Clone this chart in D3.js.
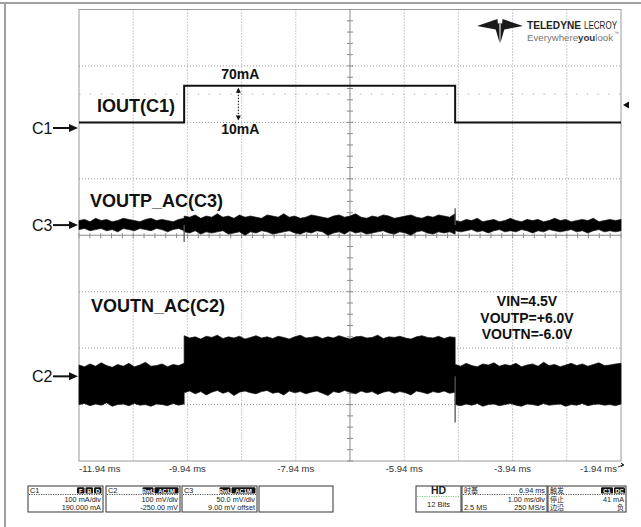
<!DOCTYPE html>
<html>
<head>
<meta charset="utf-8">
<script src="https://cdn.jsdelivr.net/npm/d3@7"></script>
<style>
  body { margin: 0; background: #fff; }
  svg { display: block; font-family: "Liberation Sans", Arial, sans-serif; }
</style>
</head>
<body>
<svg width="641" height="527"></svg>
<script>
// time axis (ms), 1 ms/div
const timeTicks = [-11.94, -9.94, -7.94, -5.94, -3.94, -1.94];
// load steps at -10 ms and -5 ms split the record in three segments
const segments = [[-11.94, -10.0], [-10.0, -5.0], [-5.0, -1.94]];

// C1 load current (mA) per segment, trigger level
const c1Levels = [10, 75, 10];
const c1Trigger = 41;

// C2 (VOUTN ac) envelope in mV, per segment
const c2Hi = [
  [20,17,22,18,24,19,16,21,18,23,17,20,25,18,19,22,17,21,19,23],
  [72,68,70,66,71,69,73,67,70,68,71,66,69,72,68,70,67,71,69,66,70,73,68,69,71,67,70,68,72,69,66,70,71,68,69,73,67,70,69,71,68,66,70,72,69,68,71,67,70,69],
  [21,18,23,19,17,22,20,24,18,21,19,23,17,20,22,18,25,19,21,17,20,23,19,22,18,21,24,19,20,22,23]
];
const c2Lo = [
  [-50,-48,-52,-49,-51,-47,-53,-50,-49,-52,-48,-51,-50,-53,-49,-50,-52,-48,-51,-49],
  [-29,-26,-31,-27,-33,-28,-25,-30,-27,-34,-28,-26,-29,-31,-27,-25,-30,-28,-33,-26,-29,-27,-31,-28,-26,-30,-34,-27,-29,-25,-28,-31,-26,-29,-27,-32,-28,-26,-30,-27,-29,-33,-26,-28,-31,-27,-29,-26,-30,-28],
  [-50,-52,-49,-51,-48,-53,-50,-49,-52,-50,-48,-51,-53,-49,-50,-52,-48,-51,-50,-49,-53,-50,-51,-48,-52,-50,-49,-51,-50,-52,-49]
];
const c2Spikes = [{ t: -5.0, v: -82 }];

// C3 (VOUTP ac) envelope in mV, per segment
const c3Hi = [
  [4,5,3,6,4,5,3,4,6,5,4,3,5,6,4,5,4,3,5,6],
  [8,7,9,6,8,7,10,7,8,6,9,7,8,7,6,9,8,7,10,7,8,6,7,9,8,7,6,8,9,7,8,10,7,6,8,7,9,8,6,7,8,9,7,6,8,7,9,8,7,10],
  [4,3,5,4,6,3,4,5,3,4,6,4,3,5,4,5,3,4,6,4,5,3,4,5,4,6,3,4,5,4,5]
];
const c3Lo = [
  [-4,-3,-5,-4,-3,-5,-4,-6,-3,-4,-5,-3,-4,-5,-3,-4,-6,-4,-3,-5],
  [-6,-7,-5,-8,-6,-7,-6,-5,-8,-7,-6,-9,-6,-7,-5,-6,-8,-7,-6,-5,-7,-8,-6,-7,-5,-6,-9,-7,-6,-8,-5,-7,-6,-8,-7,-6,-5,-7,-8,-6,-7,-9,-6,-5,-7,-8,-6,-7,-6,-8],
  [-5,-6,-5,-4,-6,-5,-7,-5,-4,-6,-5,-6,-4,-5,-7,-5,-6,-4,-5,-6,-5,-4,-6,-5,-7,-5,-4,-6,-5,-6,-5]
];
const c3Spikes = [{ t: -10.0, v: -15 }, { t: -5.0, v: 15 }];

// vertical settings: units per div and offset
const chans = {
  C1: { vdiv: 100, offset: 190 },
  C2: { vdiv: 100, offset: -250 },
  C3: { vdiv: 50, offset: 9 }
};

const svg = d3.select("svg");
const x = d3.scaleLinear().domain([-11.94, -1.94]).range([79, 621]);
const y = d3.scaleLinear().domain([-4, 4]).range([461, 9.5]);
const yc = (ch, v) => y((v + chans[ch].offset) / chans[ch].vdiv);

// outer frame (top + left only)
svg.append("line").attr("x1", 0).attr("x2", 641).attr("y1", 3).attr("y2", 3)
  .attr("stroke", "#a0a0a0").attr("stroke-width", 2);
svg.append("line").attr("x1", 5).attr("x2", 5).attr("y1", 2).attr("y2", 527)
  .attr("stroke", "#a0a0a0").attr("stroke-width", 2);

// grid
const grid = svg.append("g");
d3.range(1, 10).filter(i => i !== 5).forEach(i => {
  grid.append("line")
    .attr("x1", x(-11.94 + i)).attr("x2", x(-11.94 + i))
    .attr("y1", y(4)).attr("y2", y(-4))
    .attr("stroke", "#9a9a9a").attr("stroke-dasharray", "1,2");
});
d3.range(-3, 4).filter(d => d !== 0).forEach(d => {
  grid.append("line")
    .attr("x1", x(-11.94)).attr("x2", x(-1.94))
    .attr("y1", y(d)).attr("y2", y(d))
    .attr("stroke", "#9a9a9a").attr("stroke-dasharray", "1,2");
});
grid.append("line")
  .attr("x1", x(-11.94)).attr("x2", x(-1.94))
  .attr("y1", y(2.5)).attr("y2", y(2.5))
  .attr("stroke", "#b5b5b5").attr("stroke-dasharray", "1.5,9.3");

// centre cross with minor ticks
grid.append("line").attr("x1", x(-6.94)).attr("x2", x(-6.94))
  .attr("y1", y(4)).attr("y2", y(-4)).attr("stroke", "#8a8a8a");
grid.append("line").attr("x1", x(-11.94)).attr("x2", x(-1.94))
  .attr("y1", y(0)).attr("y2", y(0)).attr("stroke", "#8a8a8a");
d3.range(-20, 21).forEach(k => {
  grid.append("line")
    .attr("x1", x(-6.94) - 3).attr("x2", x(-6.94) + 3)
    .attr("y1", y(k / 5)).attr("y2", y(k / 5)).attr("stroke", "#8a8a8a");
});
d3.range(0, 51).forEach(k => {
  grid.append("line")
    .attr("x1", x(-11.94 + k / 5)).attr("x2", x(-11.94 + k / 5))
    .attr("y1", y(0) - 2).attr("y2", y(0) + 3).attr("stroke", "#8a8a8a");
});

// plot border
svg.append("rect")
  .attr("x", x(-11.94)).attr("y", y(4))
  .attr("width", x(-1.94) - x(-11.94)).attr("height", y(-4) - y(4))
  .attr("fill", "none").attr("stroke", "#9a9a9a");

// envelopes
function envelope(hi, lo) {
  const pts = [];
  segments.forEach(([t0, t1], i) => {
    const n = hi[i].length;
    hi[i].forEach((h, k) => pts.push({ t: t0 + (t1 - t0) * k / (n - 1), hi: h, lo: lo[i][k] }));
  });
  return pts;
}

function drawNoise(ch, hi, lo, spikes) {
  const area = d3.area()
    .x(d => x(d.t))
    .y0(d => yc(ch, d.lo))
    .y1(d => yc(ch, d.hi));
  svg.append("path")
    .attr("d", area(envelope(hi, lo)))
    .attr("fill", "#000").attr("stroke", "#111").attr("stroke-width", 0.7);
  spikes.forEach(s => {
    svg.append("line")
      .attr("x1", x(s.t)).attr("x2", x(s.t))
      .attr("y1", yc(ch, 0)).attr("y2", yc(ch, s.v))
      .attr("stroke", "#555").attr("stroke-width", 1.3);
  });
}
drawNoise("C3", c3Hi, c3Lo, c3Spikes);
drawNoise("C2", c2Hi, c2Lo, c2Spikes);

// C1 step trace
const c1Pts = segments.map((s, i) => ({ t: s[0], v: c1Levels[i] }))
  .concat([{ t: -1.94, v: c1Levels[2] }]);
svg.append("path")
  .attr("d", d3.line().x(d => x(d.t)).y(d => yc("C1", d.v)).curve(d3.curveStepAfter)(c1Pts))
  .attr("fill", "none").attr("stroke", "#111").attr("stroke-width", 2);

// trigger level marker on the right
const ty = yc("C1", c1Trigger);
svg.append("path")
  .attr("d", `M${x(-1.94) + 2},${ty} l6,-3.5 l0,7 Z`).attr("fill", "#111");

// 70mA / 10mA annotation
const ax = x(-9.0);
const yHi = yc("C1", c1Levels[1]), yLo = yc("C1", c1Levels[0]);
svg.append("line").attr("x1", ax).attr("x2", ax)
  .attr("y1", yHi + 3).attr("y2", yLo - 3)
  .attr("stroke", "#111").attr("stroke-dasharray", "1.5,1.5");
svg.append("path").attr("d", `M${ax},${yHi + 2} l-2.5,5 l5,0 Z`).attr("fill", "#111");
svg.append("path").attr("d", `M${ax},${yLo - 2} l-2.5,-5 l5,0 Z`).attr("fill", "#111");
svg.append("text").attr("x", ax + 2).attr("y", 79).attr("text-anchor", "middle")
  .attr("font-size", 14).attr("font-weight", "bold").attr("fill", "#111").text("70mA");
svg.append("text").attr("x", ax + 2).attr("y", 134).attr("text-anchor", "middle")
  .attr("font-size", 14).attr("font-weight", "bold").attr("fill", "#111").text("10mA");

// trace names
const names = [
  { text: "IOUT(C1)", x: 97, y: 112 },
  { text: "VOUTP_AC(C3)", x: 90, y: 207 },
  { text: "VOUTN_AC(C2)", x: 91, y: 312 }
];
names.forEach(n => {
  svg.append("text").attr("x", n.x).attr("y", n.y)
    .attr("font-size", 18).attr("font-weight", "bold").attr("fill", "#111").text(n.text);
});

// test conditions
["VIN=4.5V", "VOUTP=+6.0V", "VOUTN=-6.0V"].forEach((t, i) => {
  svg.append("text").attr("x", 527).attr("y", 306 + i * 16.5).attr("text-anchor", "middle")
    .attr("font-size", 14).attr("font-weight", "bold").attr("fill", "#111").text(t);
});

// channel ground markers
["C1", "C3", "C2"].forEach(ch => {
  const gy = yc(ch, 0);
  svg.append("text").attr("x", 32).attr("y", gy + 5.5)
    .attr("font-size", 16).attr("fill", "#111").text(ch);
  svg.append("line").attr("x1", 53).attr("x2", 70).attr("y1", gy).attr("y2", gy)
    .attr("stroke", "#111").attr("stroke-width", 2);
  svg.append("path").attr("d", `M${78},${gy} l-9,-4 l0,8 Z`).attr("fill", "#111");
});

// time axis labels
timeTicks.forEach((t, i) => {
  const last = i === timeTicks.length - 1;
  svg.append("text")
    .attr("x", i === 0 ? x(t) : last ? x(t) - 4 : x(t))
    .attr("y", 472)
    .attr("text-anchor", i === 0 ? "start" : last ? "end" : "middle")
    .attr("font-size", 9.5).attr("fill", "#333")
    .text(`${t.toFixed(2)} ms`);
});
svg.append("path").attr("d", "M618,467 l5,-2 M623,465 l-2,-2 l3,2 l-3,1.5 Z")
  .attr("stroke", "#333").attr("stroke-width", 1).attr("fill", "#333");

// logo
const logo = svg.append("g").attr("fill", "#1a1a1a");
logo.append("path").attr("d", "M477,26 L497.5,19 L498.5,30 Z");
logo.append("path").attr("d", "M523,26 L502.5,19 L501.5,30 Z");
logo.append("path").attr("d", "M495,27 L499.4,22.5 L499.6,43 Z");
logo.append("path").attr("d", "M505,27 L500.6,22.5 L500.4,43 Z");
svg.append("text").attr("x", 527).attr("y", 28.5)
  .attr("font-size", 10.5).attr("font-weight", "bold").attr("fill", "#222")
  .attr("textLength", 54).attr("lengthAdjust", "spacingAndGlyphs").text("TELEDYNE");
svg.append("text").attr("x", 584).attr("y", 28.5)
  .attr("font-size", 10.5).attr("fill", "#222")
  .attr("textLength", 33).attr("lengthAdjust", "spacingAndGlyphs").text("LECROY");
const lt2 = svg.append("text").attr("x", 527).attr("y", 40.5)
  .attr("font-size", 9).attr("fill", "#777").attr("textLength", 86).attr("lengthAdjust", "spacingAndGlyphs");
lt2.append("tspan").text("Everywhere");
lt2.append("tspan").attr("font-weight", "bold").attr("fill", "#333").text("you");
lt2.append("tspan").text("look");
svg.append("text").attr("x", 614).attr("y", 35).attr("font-size", 5).attr("fill", "#777").text("™");

// info boxes
const boxTop = 486, boxBot = 512;
const row1 = 493, row2 = 501.6, row3 = 509.6;
const info = svg.append("g").attr("font-size", 7.3).attr("fill", "#222");
function box(x0, x1, sepColor) {
  info.append("rect").attr("x", x0).attr("y", boxTop).attr("width", x1 - x0).attr("height", boxBot - boxTop)
    .attr("fill", "#fff").attr("stroke", "#333").attr("stroke-width", 1);
  if (sepColor) {
    info.append("line").attr("x1", x0 + 1).attr("x2", x1 - 1).attr("y1", 494.5).attr("y2", 494.5)
      .attr("stroke", sepColor).attr("stroke-dasharray", "1.2,1.2");
  }
}
function txt(xp, yp, s, anchor, extra) {
  const t = info.append("text").attr("x", xp).attr("y", yp).attr("text-anchor", anchor || "start").text(s);
  if (extra) extra(t);
  return t;
}
function badge(x0, w, s) {
  info.append("rect").attr("x", x0).attr("y", 487.3).attr("width", w).attr("height", 6.3)
    .attr("rx", 1.2).attr("fill", "#111");
  info.append("text").attr("x", x0 + w / 2).attr("y", 492.6).attr("text-anchor", "middle")
    .attr("font-size", 5.8).attr("font-weight", "bold").attr("fill", "#fff").text(s);
}

const chBoxes = [
  { x0: 28, x1: 103, name: "C1", badges: [["F", 7.5], ["B", 7.5], ["D", 7.5]], r1: "100 mA/div", r2: "190.000 mA" },
  { x0: 106, x1: 180, name: "C2", badges: [["BwL", 11], ["AC1M", 24]], r1: "100 mV/div", r2: "-250.00 mV" },
  { x0: 182, x1: 257, name: "C3", badges: [["BwL", 11], ["AC1M", 24]], r1: "50.0 mV/div", r2: "9.00 mV offset" }
];
chBoxes.forEach(b => {
  box(b.x0, b.x1, "#555");
  txt(b.x0 + 2, row1, b.name);
  let bx = b.x1 - 1.5;
  b.badges.slice().reverse().forEach(([s, w]) => { bx -= w; badge(bx, w, s); bx -= 1; });
  txt(b.x1 - 2, row2, b.r1, "end");
  txt(b.x1 - 2, row3, b.r2, "end");
});
box(259, 333);

// HD box
box(416, 461);
info.append("line").attr("x1", 417).attr("x2", 460).attr("y1", 496.5).attr("y2", 496.5)
  .attr("stroke", "#7ccf7c").attr("stroke-dasharray", "1.2,1.2");
txt(438.5, 494, "HD", "middle", t => t.attr("font-weight", "bold").attr("font-size", 10.5));
txt(438.5, 506.5, "12 Bits", "middle", t => t.attr("font-size", 7.5));

// timebase box
box(462, 547, "#555");
const cjk = t => t.attr("font-family", "'Liberation Sans', 'Noto Sans CJK SC', sans-serif").attr("font-size", 7);
txt(464, row1, "时基", "start", cjk);
txt(545, row1, "6.94 ms", "end");
txt(545, row2, "1.00 ms/div", "end");
txt(464, row3, "2.5 MS", "start");
txt(545, row3, "250 MS/s", "end");

// trigger box
box(548, 626, "#555");
txt(550, row1, "触发", "start", cjk);
badge(601, 12, "C1");
badge(614, 11, "DC");
txt(550, row2, "停止", "start", cjk);
txt(624, row2, "41 mA", "end");
txt(550, row3, "边沿", "start", cjk);
txt(624, row3, "负", "end", cjk);
</script>
</body>
</html>
